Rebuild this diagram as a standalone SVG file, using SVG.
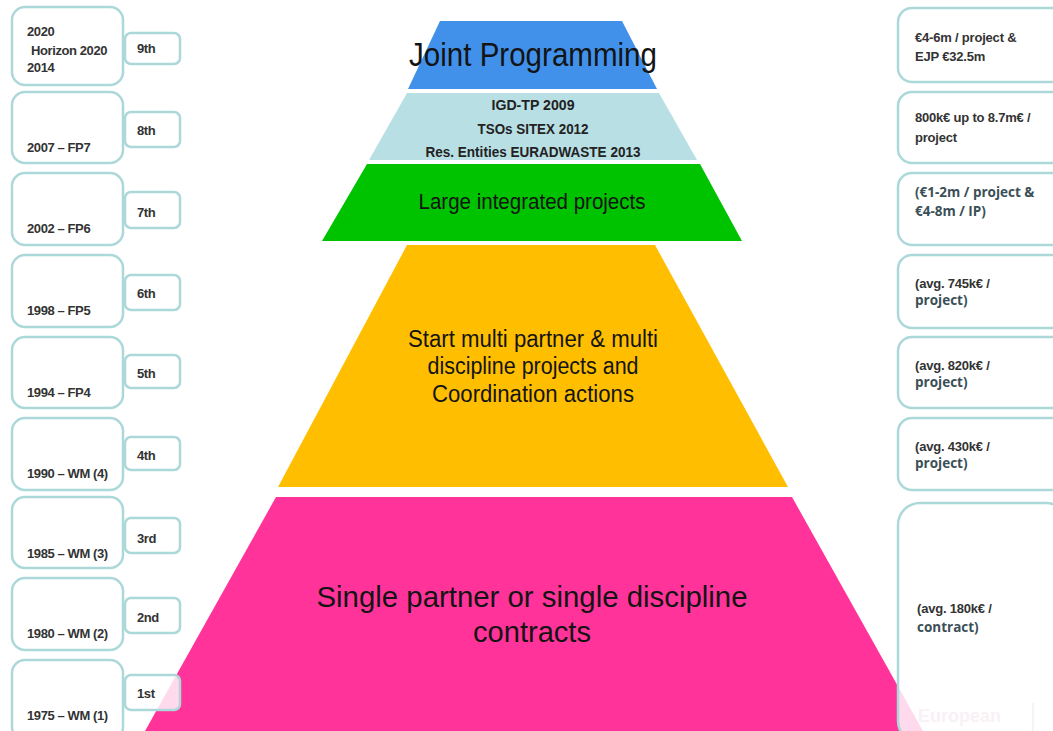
<svg xmlns="http://www.w3.org/2000/svg" width="1053" height="731" viewBox="0 0 1053 731">
<style>
.box{fill:#ffffff;fill-opacity:0.82;stroke:#acd8da;stroke-width:2.5}
.lt{font-family:"Liberation Sans",Arial,sans-serif;font-weight:bold;font-size:13px;fill:#333333;letter-spacing:-0.4px}
.rt{font-family:"Liberation Sans",Arial,sans-serif;font-weight:bold;font-size:13px;fill:#333333;letter-spacing:-0.2px}
.rt2{font-family:"Open Sans","Liberation Sans",sans-serif;font-weight:bold;font-size:13.5px;fill:#3b4f57}
.pt{font-family:"Liberation Sans",Arial,sans-serif;fill:#141414;text-anchor:middle}
.pb{font-family:"Liberation Sans",Arial,sans-serif;font-weight:bold;fill:#222222;text-anchor:middle;font-size:14px}
</style>
<rect width="1053" height="731" fill="#ffffff"/>
<g id="pyramid">
  <g id="layer-joint"><polygon points="440,21 622,21 657,89 408,89" fill="#4191eb"/>
    <text class="pt" x="533" y="66" font-size="33" textLength="248" lengthAdjust="spacingAndGlyphs">Joint Programming</text></g>
  <g id="layer-igd"><polygon points="407,93 659,93 697,160 369,160" fill="#b8dfe4"/>
    <text class="pb" x="533" y="110" textLength="83" lengthAdjust="spacingAndGlyphs">IGD-TP 2009</text>
    <text class="pb" x="533" y="134" textLength="111" lengthAdjust="spacingAndGlyphs">TSOs SITEX 2012</text>
    <text class="pb" x="533" y="157" textLength="215" lengthAdjust="spacingAndGlyphs">Res. Entities EURADWASTE 2013</text></g>
  <g id="layer-large"><polygon points="367,164 700,164 742,241 322,241" fill="#00c300"/>
    <text class="pt" x="532" y="209" font-size="22" textLength="227" lengthAdjust="spacingAndGlyphs">Large integrated projects</text></g>
  <g id="layer-multi"><polygon points="407,245 655,245 788,487 278,487" fill="#ffbf00"/>
    <text class="pt" x="533" y="347" font-size="23" textLength="250" lengthAdjust="spacingAndGlyphs">Start multi partner &amp; multi</text>
    <text class="pt" x="533" y="374" font-size="23" textLength="211" lengthAdjust="spacingAndGlyphs">discipline projects and</text>
    <text class="pt" x="533" y="402" font-size="23" textLength="202" lengthAdjust="spacingAndGlyphs">Coordination actions</text></g>
  <g id="layer-single"><polygon points="276,497 792,497 923,731 145,731" fill="#ff3399"/>
    <text class="pt" x="532" y="607" font-size="30" textLength="431" lengthAdjust="spacingAndGlyphs">Single partner or single discipline</text>
    <text class="pt" x="532" y="642" font-size="30" textLength="118" lengthAdjust="spacingAndGlyphs">contracts</text></g>
</g>
<g id="connectors"></g>
<g id="left-periods">
  <g id="p9"><rect class="box" x="12" y="7" width="111" height="78" rx="13"/><rect class="box" x="125" y="33" width="55" height="31" rx="6"/>
    <text class="lt" x="27" y="36">2020</text><text class="lt" x="31" y="55">Horizon 2020</text><text class="lt" x="27" y="72">2014</text><text class="lt" x="137" y="53">9th</text></g>
  <g id="p8"><rect class="box" x="12" y="92" width="111" height="71" rx="13"/><rect class="box" x="125" y="112" width="55" height="35" rx="6"/>
    <text class="lt" x="27" y="152">2007 – FP7</text><text class="lt" x="137" y="135">8th</text></g>
  <g id="p7"><rect class="box" x="12" y="173" width="111" height="72" rx="13"/><rect class="box" x="125" y="192" width="55" height="36" rx="6"/>
    <text class="lt" x="27" y="233">2002 – FP6</text><text class="lt" x="137" y="217">7th</text></g>
  <g id="p6"><rect class="box" x="12" y="255" width="111" height="72" rx="13"/><rect class="box" x="125" y="275" width="55" height="35" rx="6"/>
    <text class="lt" x="27" y="315">1998 – FP5</text><text class="lt" x="137" y="298">6th</text></g>
  <g id="p5"><rect class="box" x="12" y="337" width="111" height="71" rx="13"/><rect class="box" x="125" y="355" width="55" height="33" rx="6"/>
    <text class="lt" x="27" y="397">1994 – FP4</text><text class="lt" x="137" y="378">5th</text></g>
  <g id="p4"><rect class="box" x="12" y="418" width="111" height="72" rx="13"/><rect class="box" x="125" y="437" width="55" height="33" rx="6"/>
    <text class="lt" x="27" y="478">1990 – WM (4)</text><text class="lt" x="137" y="460">4th</text></g>
  <g id="p3"><rect class="box" x="12" y="497" width="111" height="71" rx="13"/><rect class="box" x="125" y="518" width="55" height="35" rx="6"/>
    <text class="lt" x="27" y="558">1985 – WM (3)</text><text class="lt" x="137" y="543">3rd</text></g>
  <g id="p2"><rect class="box" x="12" y="578" width="111" height="72" rx="13"/><rect class="box" x="125" y="598" width="55" height="35" rx="6"/>
    <text class="lt" x="27" y="638">1980 – WM (2)</text><text class="lt" x="137" y="622">2nd</text></g>
  <g id="p1"><rect class="box" x="12" y="660" width="111" height="80" rx="13"/><rect class="box" x="125" y="675" width="55" height="35" rx="6"/>
    <text class="lt" x="27" y="720">1975 – WM (1)</text><text class="lt" x="137" y="698">1st</text></g>
</g>
<g id="right-budgets">
  <g id="b9"><rect class="box" x="898" y="8" width="170" height="74" rx="14"/>
    <text class="rt" x="915" y="42">€4-6m / project &amp;</text><text class="rt" x="915" y="61">EJP €32.5m</text></g>
  <g id="b8"><rect class="box" x="898" y="92" width="170" height="71" rx="14"/>
    <text class="rt" x="915" y="122">800k€ up to 8.7m€ /</text><text class="rt" x="915" y="142">project</text></g>
  <g id="b7"><rect class="box" x="898" y="173" width="170" height="72" rx="14"/>
    <text class="rt2" x="915" y="197">(€1-2m / project &amp;</text><text class="rt2" x="915" y="216">€4-8m / IP)</text></g>
  <g id="b6"><rect class="box" x="898" y="255" width="170" height="73" rx="14"/>
    <text class="rt" x="915" y="288">(avg. 745k€ /</text><text class="rt2" x="915" y="305">project)</text></g>
  <g id="b5"><rect class="box" x="898" y="337" width="170" height="71" rx="14"/>
    <text class="rt" x="915" y="370">(avg. 820k€ /</text><text class="rt2" x="915" y="387">project)</text></g>
  <g id="b4"><rect class="box" x="898" y="418" width="170" height="72" rx="14"/>
    <text class="rt" x="915" y="451">(avg. 430k€ /</text><text class="rt2" x="915" y="468">project)</text></g>
  <g id="b1-3"><rect class="box" x="898" y="503" width="170" height="240" rx="22"/>
    <text class="rt" x="917" y="613">(avg. 180k€ /</text><text class="rt2" x="917" y="632">contract)</text></g>
</g>
<g id="watermark" opacity="0.5">
  <text x="918" y="722" font-family="'Liberation Sans',Arial,sans-serif" font-weight="bold" font-size="18" fill="#f2e4ec">European</text>
  <line x1="1033" y1="703" x2="1033" y2="731" stroke="#dfe6ea" stroke-width="1.5"/>
</g>
</svg>
